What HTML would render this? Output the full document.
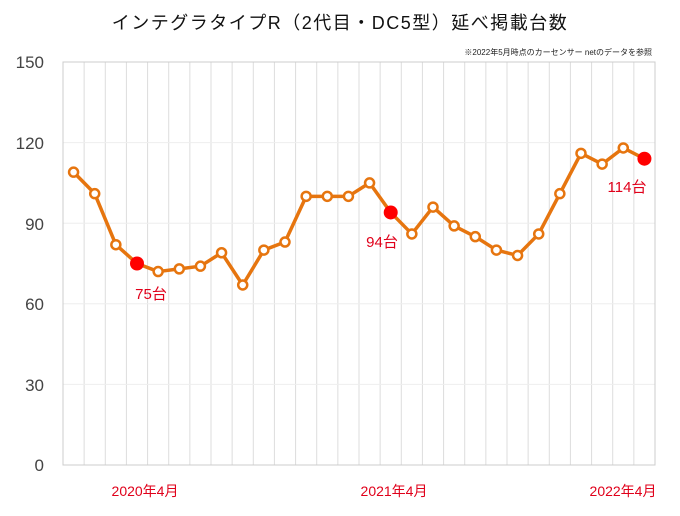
<!DOCTYPE html>
<html><head><meta charset="utf-8"><style>
body{margin:0;background:#fff;}
svg text{font-family:"Liberation Sans","Noto Sans CJK JP",sans-serif;}
</style></head><body>
<svg width="680" height="511" viewBox="0 0 680 511" xmlns="http://www.w3.org/2000/svg">
<text x="340" y="29" text-anchor="middle" font-size="18" fill="#111" letter-spacing="1.5">インテグラタイプR（2代目・DC5型）延べ掲載台数</text>
<text x="652" y="55" text-anchor="end" font-size="8" fill="#222">※2022年5月時点のカーセンサー netのデータを参照</text>
<g id="g"></g>
<rect x="63" y="62" width="592" height="403" fill="none" stroke="#ccc" stroke-width="1"/>
<g font-size="17" fill="#444" text-anchor="end">
<text x="44" y="68">150</text><text x="44" y="149">120</text><text x="44" y="230">90</text><text x="44" y="310">60</text><text x="44" y="391">30</text><text x="44" y="471">0</text>
</g>
<g font-size="14" fill="#e0001a" text-anchor="middle">
<text x="145" y="496">2020年4月</text><text x="394" y="496">2021年4月</text><text x="623" y="496">2022年4月</text>
</g>
<g font-size="15" fill="#e0001a" text-anchor="middle">
<text x="151" y="299">75台</text><text x="382" y="247">94台</text><text x="627" y="192">114台</text>
</g>
<script>
var d=[109,101,82,75,72,73,74,79,67,80,83,100,100,100,105,94,86,96,89,85,80,78,86,101,116,112,118,114];
var ns="http://www.w3.org/2000/svg",g=document.getElementById('g'),w=592/28;
function el(t,a){var e=document.createElementNS(ns,t);for(var k in a)e.setAttribute(k,a[k]);g.appendChild(e);return e;}
for(var i=1;i<28;i++)el('line',{x1:63+i*w,x2:63+i*w,y1:62,y2:465,stroke:'#ddd','stroke-width':1});
for(var v=30;v<150;v+=30){var y=465-v*403/150;el('line',{x1:63,x2:655,y1:y,y2:y,stroke:'#eee','stroke-width':1});}
var pts=d.map(function(v,i){return [63+(i+0.5)*w,465-v*403/150];});
el('polyline',{points:pts.map(function(p){return p.join(',')}).join(' '),fill:'none',stroke:'#e6750f','stroke-width':3.5,'stroke-linejoin':'round'});
pts.forEach(function(p,i){if(i==3||i==15||i==27)el('circle',{cx:p[0],cy:p[1],r:7,fill:'#f00'});else el('circle',{cx:p[0],cy:p[1],r:4.5,fill:'#fff',stroke:'#e6750f','stroke-width':2.5});});
</script>
</svg>
</body></html>
